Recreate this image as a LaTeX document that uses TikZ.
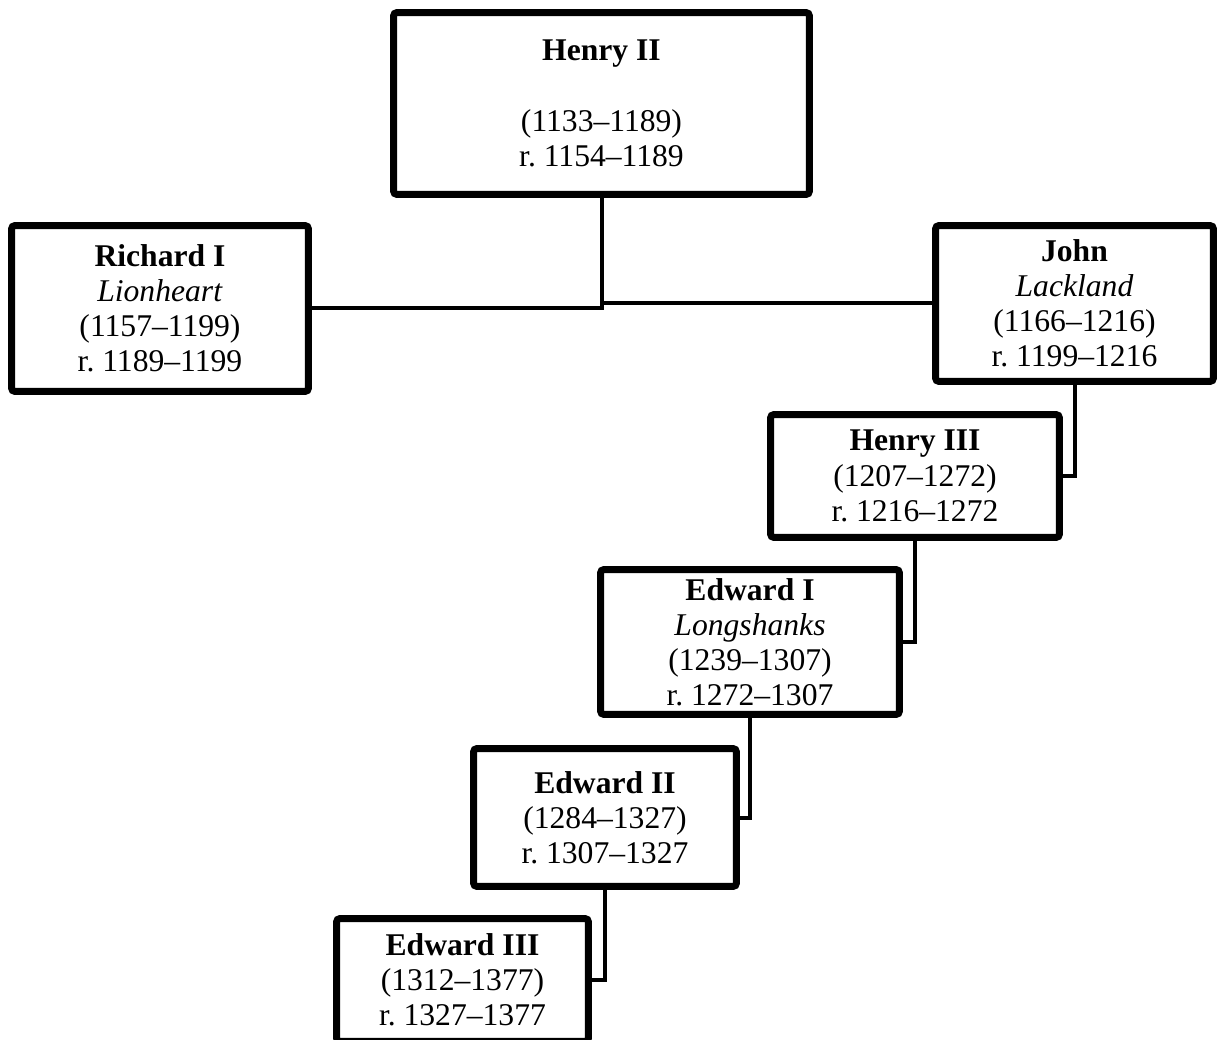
\documentclass[tikz,border=0pt]{standalone}
\usepackage{fontspec}
\setmainfont{Liberation Serif}
\usepackage{tikz}
\usetikzlibrary{shadows}
\frenchspacing

\begin{document}
\begin{tikzpicture}[
  x=0.02cm,y=-0.02cm,
  font=\fontsize{18}{20}\selectfont,
  king/.style={draw,line width=0.14cm,rounded corners=2pt,fill=white,
    align=center,inner sep=0pt,
    drop shadow={shadow xshift=1.5pt,shadow yshift=-1.5pt,opacity=0.25}},
  line/.style={line width=0.08cm}
]
  \clip (0,0) rectangle (1218,1040);

  \node[king,minimum width=8.32cm,minimum height=3.64cm] (henry2) at (601.5,103.5)
    {\textbf{Henry II}\\[\baselineskip](1133--1189)\\r. 1154--1189};
  \node[king,minimum width=5.94cm,minimum height=3.32cm] (richard) at (160,308.5)
    {\textbf{Richard I}\\\textit{Lionheart}\\(1157--1199)\\r. 1189--1199};
  \node[king,minimum width=5.56cm,minimum height=3.12cm] (john) at (1074.5,303.5)
    {\textbf{John}\\\textit{Lackland}\\(1166--1216)\\r. 1199--1216};
  \node[king,minimum width=5.78cm,minimum height=2.46cm] (henry3) at (915,476)
    {\textbf{Henry III}\\(1207--1272)\\r. 1216--1272};
  \node[king,minimum width=5.98cm,minimum height=2.90cm] (edward1) at (750,642)
    {\textbf{Edward I}\\\textit{Longshanks}\\(1239--1307)\\r. 1272--1307};
  \node[king,minimum width=5.26cm,minimum height=2.76cm] (edward2) at (605,817.5)
    {\textbf{Edward II}\\(1284--1327)\\r. 1307--1327};
  \node[king,minimum width=5.04cm,minimum height=2.46cm] (edward3) at (462.5,980)
    {\textbf{Edward III}\\(1312--1377)\\r. 1327--1377};

  % sons of Henry II
  \draw[line] (henry2.south) |- (richard.east);
  \draw[line] (henry2.south |- john.west) -- (john.west);

  % line of succession
  \draw[line] (john.south) |- (henry3.east);
  \draw[line] (henry3.south) |- (edward1.east);
  \draw[line] (edward1.south) |- (edward2.east);
  \draw[line] (edward2.south) |- (edward3.east);
\end{tikzpicture}
\end{document}
